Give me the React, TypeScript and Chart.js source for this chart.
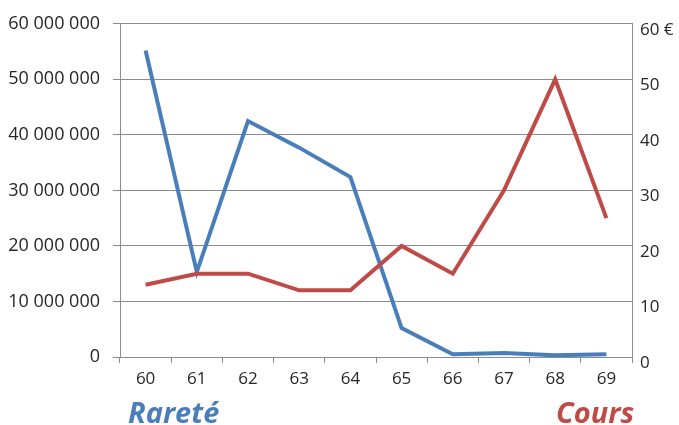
import React, { useEffect, useRef } from "react";
import { Chart, registerables } from "chart.js";

Chart.register(...registerables);

const categories = ["60", "61", "62", "63", "64", "65", "66", "67", "68", "69"];
const rareteValues = [55200000, 15300000, 42500000, 37700000, 32400000, 5200000, 500000, 700000, 300000, 500000];
const coursValues = [13, 15, 15, 12, 12, 20, 15, 30, 50, 25];
const leftTicks = [0, 10000000, 20000000, 30000000, 40000000, 50000000, 60000000];
const rightTicks = [0, 10, 20, 30, 40, 50, 60];

const BLUE = "#4a7ebb";
const RED = "#be4b48";
const GRID = "#8c8c8c";
const TEXT = "#262626";

function fmtSpace(v: number): string {
  return String(Math.round(v)).replace(/\B(?=(\d{3})+(?!\d))/g, " ");
}

export default function App() {
  const ref = useRef<HTMLCanvasElement | null>(null);

  useEffect(() => {
    if (!ref.current) return;
    const chart = new Chart(ref.current, {
      type: "line",
      data: {
        labels: categories,
        datasets: [
          {
            label: "Cours",
            data: coursValues,
            yAxisID: "y1",
            borderColor: RED,
            borderWidth: 4,
            pointRadius: 0,
            tension: 0,
            fill: false,
          },
          {
            label: "Rareté",
            data: rareteValues,
            yAxisID: "y",
            borderColor: BLUE,
            borderWidth: 4,
            pointRadius: 0,
            tension: 0,
            fill: false,
          },
        ],
      },
      options: {
        responsive: false,
        animation: false,
        layout: { padding: { top: 20, left: 0, right: 0, bottom: 0 } },
        plugins: { legend: { display: false }, tooltip: { enabled: false } },
        scales: {
          x: {
            offset: true,
            grid: {
              offset: true,
              drawOnChartArea: false,
              drawTicks: true,
              tickLength: 6,
              color: GRID,
            },
            border: { display: true, color: GRID, width: 1 },
            ticks: {
              color: TEXT,
              font: { family: "'Open Sans'", size: 17 },
              padding: 6,
              maxRotation: 0,
            },
            afterFit: (s: any) => {
              s.height = 68;
            },
          },
          y: {
            position: "left",
            min: 0,
            max: 60000000,
            afterBuildTicks: (s: any) => {
              s.ticks = leftTicks.map((v) => ({ value: v }));
            },
            grid: {
              color: GRID,
              lineWidth: 1,
              drawTicks: true,
              tickLength: 7,
            },
            border: { display: true, color: GRID, width: 1 },
            ticks: {
              color: TEXT,
              font: { family: "'Open Sans'", size: 18 },
              padding: 13,
              callback: (v: any) => fmtSpace(Number(v)),
            },
            afterFit: (s: any) => {
              s.width = 120;
            },
          },
          y1: {
            position: "right",
            min: 0,
            max: 60,
            afterBuildTicks: (s: any) => {
              s.ticks = rightTicks.map((v) => ({ value: v }));
            },
            grid: { drawOnChartArea: false, drawTicks: false },
            border: { display: true, color: GRID, width: 1 },
            ticks: {
              color: TEXT,
              font: { family: "'Open Sans'", size: 17 },
              padding: 8,
              labelOffset: 6,
              callback: (v: any) => (Number(v) === 60 ? "60 €" : String(v)),
            },
            afterFit: (s: any) => {
              s.width = 47;
            },
          },
        },
      },
    });
    return () => chart.destroy();
  }, []);

  const titleStyle: React.CSSProperties = {
    position: "absolute",
    top: 397,
    fontFamily: "'Open Sans', 'DejaVu Sans', sans-serif",
    fontWeight: 700,
    fontStyle: "italic",
    fontSize: 29,
    lineHeight: "30px",
    whiteSpace: "nowrap",
  };

  return (
    <div style={{ position: "fixed", left: 0, top: 0, width: 679, height: 425, background: "#fff", overflow: "hidden" }}>
      <canvas ref={ref} width={679} height={425} style={{ display: "block" }} />
      <div style={{ ...titleStyle, left: 128, color: BLUE }}>Rareté</div>
      <div style={{ ...titleStyle, left: 556, color: RED }}>Cours</div>
    </div>
  );
}
